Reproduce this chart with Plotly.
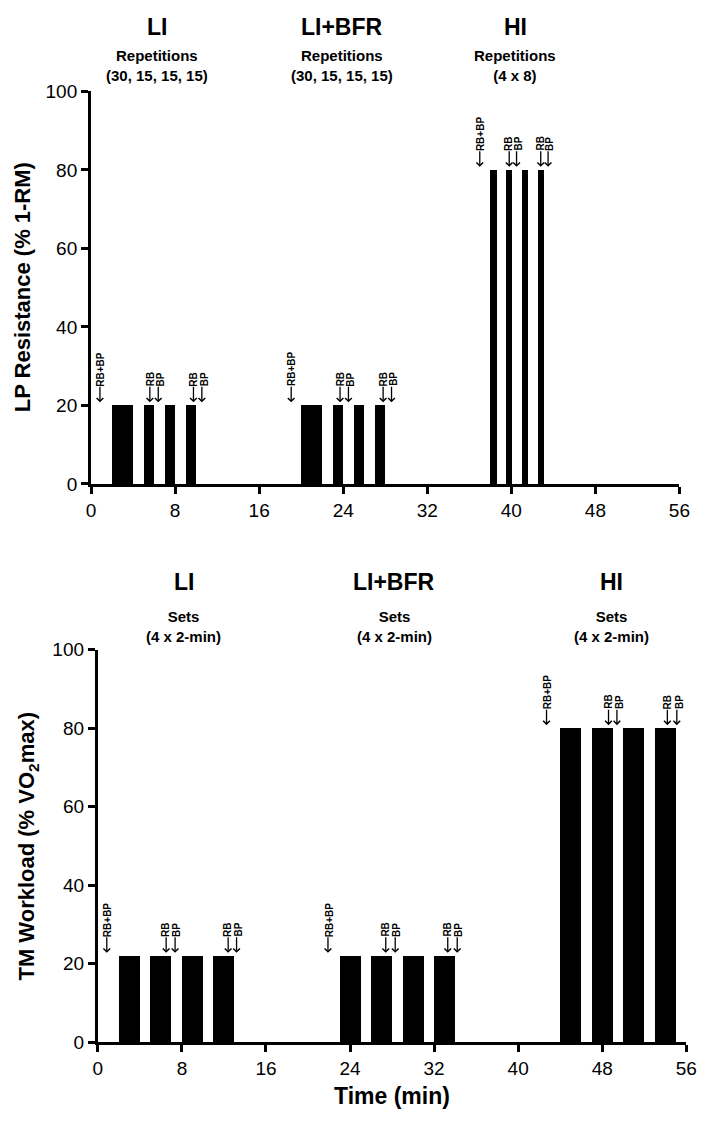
import plotly.graph_objects as go

W, H = 709, 1124

# ---------------- data ----------------
# Leg press (top panel): set start (min), set duration (min), resistance (% 1-RM)
lp_start = [2, 5, 7, 9, 20, 23, 25, 27, 38, 39.5, 41, 42.5]
lp_dur = [2, 1, 1, 1, 2, 1, 1, 1, 0.6, 0.6, 0.6, 0.6]
lp_value = [20, 20, 20, 20, 20, 20, 20, 20, 80, 80, 80, 80]

# Treadmill (bottom panel): set start (min), duration (min), workload (% VO2max)
tm_start = [2, 5, 8, 11, 23, 26, 29, 32, 44, 47, 50, 53]
tm_dur = [2, 2, 2, 2, 2, 2, 2, 2, 2, 2, 2, 2]
tm_value = [22, 22, 22, 22, 22, 22, 22, 22, 80, 80, 80, 80]

# measurement markers (time in min, label, level of the set they sit over)
lp_mark_t = [0.85, 5.6, 6.4, 9.75, 10.55, 19.05, 23.7, 24.5, 27.8, 28.6, 37.0, 39.8, 40.5, 42.8, 43.5]
lp_mark_label = ["RB+BP", "RB", "BP", "RB", "BP", "RB+BP", "RB", "BP", "RB", "BP", "RB+BP", "RB", "BP", "RB", "BP"]
lp_mark_level = [20, 20, 20, 20, 20, 20, 20, 20, 20, 20, 80, 80, 80, 80, 80]

tm_mark_t = [0.85, 6.5, 7.35, 12.4, 13.2, 21.9, 27.4, 28.3, 33.3, 34.2, 42.7, 48.6, 49.4, 54.2, 55.1]
tm_mark_label = ["RB+BP", "RB", "BP", "RB", "BP", "RB+BP", "RB", "BP", "RB", "BP", "RB+BP", "RB", "BP", "RB", "BP"]
tm_mark_level = [22, 22, 22, 22, 22, 22, 22, 22, 22, 22, 80, 80, 80, 80, 80]

groups = ["LI", "LI+BFR", "HI"]
lp_sub = ["Repetitions<br>(30, 15, 15, 15)", "Repetitions<br>(30, 15, 15, 15)", "Repetitions<br>(4 x 8)"]
tm_sub = ["Sets<br>(4 x 2-min)", "Sets<br>(4 x 2-min)", "Sets<br>(4 x 2-min)"]
lp_group_x = [155, 345, 522]      # px centres of headers
tm_group_x = [183, 398, 620]

x_ticks = [0, 8, 16, 24, 32, 40, 48, 56]
y_ticks = [0, 20, 40, 60, 80, 100]

FONT = "Liberation Sans, Arial, Helvetica, sans-serif"

# ---------------- layout geometry (pixels) ----------------
top_x0, top_x1 = 88, 690
top_y0, top_y1 = 483, 83     # pixel rows of value 0 and value 100
bot_x0, bot_x1 = 95, 697
bot_y0, bot_y1 = 1052, 652

def px_dom_x(a, b):
    return [a / W, b / W]

def px_dom_y(bottom_px, top_px):
    return [1 - bottom_px / H, 1 - top_px / H]

fig = go.Figure()

fig.add_trace(go.Bar(
    x=[s + d / 2 for s, d in zip(lp_start, lp_dur)],
    y=lp_value, width=lp_dur, base=0,
    marker=dict(color="black", line=dict(width=0)),
    xaxis="x", yaxis="y", showlegend=False, hoverinfo="skip"))

fig.add_trace(go.Bar(
    x=[s + d / 2 for s, d in zip(tm_start, tm_dur)],
    y=tm_value, width=tm_dur, base=0,
    marker=dict(color="black", line=dict(width=0)),
    xaxis="x2", yaxis="y2", showlegend=False, hoverinfo="skip"))

axis_common = dict(
    showgrid=False, zeroline=False, showline=True, linecolor="black", linewidth=3,
    ticks="outside", ticklen=7, tickwidth=3, tickcolor="black",
    tickfont=dict(family=FONT, size=19, color="black"), fixedrange=True,
)

fig.update_layout(
    width=W, height=H, margin=dict(l=0, r=0, t=0, b=0),
    paper_bgcolor="white", plot_bgcolor="white",
    barmode="overlay", bargap=0,
    xaxis=dict(domain=px_dom_x(top_x0, top_x1), range=[0, 56], tickvals=x_ticks,
               anchor="y", **axis_common),
    yaxis=dict(domain=px_dom_y(top_y0, top_y1), range=[0, 100], tickvals=y_ticks,
               anchor="x", **axis_common),
    xaxis2=dict(domain=px_dom_x(bot_x0, bot_x1), range=[0, 56], tickvals=x_ticks,
                anchor="y2", **axis_common),
    yaxis2=dict(domain=px_dom_y(bot_y0, bot_y1), range=[0, 100], tickvals=y_ticks,
                anchor="x2", **axis_common),
)

ann = []
ARROW_LEN = 17
TIP_GAP = 0.8  # value units above the bar

def add_marks(ts, labels, levels, xr, yr):
    for t, lab, lev in zip(ts, labels, levels):
        tip = lev + TIP_GAP
        ann.append(dict(x=t, y=tip, xref=xr, yref=yr, text="", showarrow=True,
                        ax=0, ay=-ARROW_LEN, arrowhead=4, arrowsize=1.0,
                        arrowwidth=1.3, arrowcolor="black"))
        shift = 2 if lab == "BP" else (0 if lab == "RB" else 1)
        ann.append(dict(x=t, y=tip, xref=xr, yref=yr, text=lab, showarrow=False,
                        yshift=ARROW_LEN - 2, xshift=shift, yanchor="bottom", xanchor="center",
                        textangle=-90, borderpad=0,
                        font=dict(family=FONT, size=10, color="black", weight="bold")))

add_marks(lp_mark_t, lp_mark_label, lp_mark_level, "x", "y")
add_marks(tm_mark_t, tm_mark_label, tm_mark_level, "x2", "y2")

def add_headers(xs, subs, y_title, y_sub):
    for gx, g, s in zip(xs, groups, subs):
        ann.append(dict(x=gx / W, y=1 - y_title / H, xref="paper", yref="paper",
                        text=g, showarrow=False, xanchor="center", yanchor="middle",
                        font=dict(family=FONT, size=23, color="black", weight="bold")))
        ann.append(dict(x=gx / W, y=1 - y_sub / H, xref="paper", yref="paper",
                        text=s, showarrow=False, xanchor="center", yanchor="middle",
                        font=dict(family=FONT, size=15, color="black", weight="bold")))

add_headers(lp_group_x, lp_sub, 17, 57)
add_headers(tm_group_x, tm_sub, 583, 628)

# axis titles
ann.append(dict(x=18 / W, y=1 - ((top_y0 + top_y1) / 2) / H, xref="paper", yref="paper",
                text="LP Resistance (% 1-RM)", showarrow=False, textangle=-90,
                xanchor="center", yanchor="middle",
                font=dict(family=FONT, size=22, color="black", weight="bold")))
ann.append(dict(x=24 / W, y=1 - ((bot_y0 + bot_y1) / 2) / H, xref="paper", yref="paper",
                text="TM Workload (% VO<sub>2</sub>max)", showarrow=False, textangle=-90,
                xanchor="center", yanchor="middle",
                font=dict(family=FONT, size=22, color="black", weight="bold")))
ann.append(dict(x=((bot_x0 + bot_x1) / 2) / W, y=1 - 1107 / H, xref="paper", yref="paper",
                text="Time (min)", showarrow=False, xanchor="center", yanchor="middle",
                font=dict(family=FONT, size=23, color="black", weight="bold")))

fig.update_layout(annotations=ann)
fig.write_html("out.html", config={"displayModeBar": False, "staticPlot": True},
               post_script="document.body.style.margin='0';document.body.style.overflow='hidden';")
